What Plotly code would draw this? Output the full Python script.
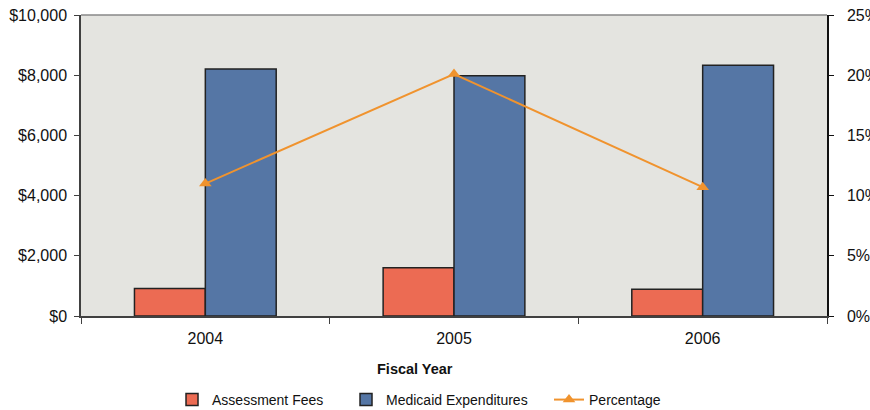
import plotly.graph_objects as go

years = ["2004", "2005", "2006"]
assessment_fees = [910, 1600, 890]
medicaid_expenditures = [8210, 7980, 8330]
percentage = [11.0, 20.1, 10.7]

left_ticks = [0, 2000, 4000, 6000, 8000, 10000]
left_labels = ["$0", "$2,000", "$4,000", "$6,000", "$8,000", "$10,000"]
right_ticks = [0, 5, 10, 15, 20, 25]
right_labels = ["0%", "5%", "10%", "15%", "20%", "25%"]

FAM = "Liberation Sans, Arial, sans-serif"
font = dict(family=FAM, size=15, color="#111111")

fig = go.Figure()
fig.add_trace(go.Bar(x=years, y=assessment_fees, name="Assessment Fees", legendwidth=129,
                     marker=dict(color="#EC6B53", line=dict(color="#222222", width=1.5))))
fig.add_trace(go.Bar(x=years, y=medicaid_expenditures, name="Medicaid Expenditures", legendwidth=158,
                     marker=dict(color="#5576A5", line=dict(color="#222222", width=1.5))))
fig.add_trace(go.Scatter(x=years, y=percentage, name="Percentage", yaxis="y2", legendwidth=80,
                         mode="lines+markers",
                         line=dict(color="#F0932E", width=2),
                         marker=dict(symbol="triangle-up", size=11, color="#F0932E")))

fig.update_layout(
    width=870, height=410,
    margin=dict(l=81, r=43, t=15, b=94, autoexpand=False),
    paper_bgcolor="white",
    plot_bgcolor="#E4E4E0",
    font=font,
    barmode="group",
    bargap=0.43,
    bargroupgap=0,
    showlegend=True,
    legend=dict(orientation="h", x=0.122, xanchor="left", y=-0.279, yanchor="middle",
                font=dict(family=FAM, size=14, color="#111111"),
                traceorder="normal"),
    xaxis=dict(
        type="category", automargin=False,
        showgrid=False, zeroline=False,
        showline=True, linecolor="#404040", linewidth=1.5,
        ticks="outside", tickson="boundaries", ticklen=6, tickcolor="#404040",
        ticklabelstandoff=7,
        tickfont=dict(family=FAM, size=16, color="#111111"),
    ),
    yaxis=dict(
        range=[0, 10000], tickvals=left_ticks, ticktext=left_labels, automargin=False,
        showgrid=False, zeroline=False,
        showline=True, linecolor="#404040", linewidth=1.5,
        ticks="outside", ticklen=5, tickcolor="#404040",
        ticklabelstandoff=4, ticklabeloverflow="allow",
        tickfont=dict(family=FAM, size=16, color="#111111"),
    ),
    yaxis2=dict(
        range=[0, 25], tickvals=right_ticks, ticktext=right_labels, automargin=False,
        overlaying="y", side="right",
        showgrid=False, zeroline=False,
        showline=True, linecolor="#111111", linewidth=1.5,
        ticks="outside", ticklen=5, tickcolor="#111111",
        ticklabelstandoff=10, ticklabeloverflow="allow",
        tickfont=dict(family=FAM, size=16, color="#111111"),
    ),
    shapes=[dict(type="line", xref="paper", yref="paper", x0=0, x1=1, y0=1, y1=1,
                 line=dict(color="#888888", width=1.5))],
    annotations=[dict(text="<b>Fiscal Year</b>", xref="paper", yref="paper",
                      x=0.448, y=-0.176, xanchor="center", yanchor="middle",
                      showarrow=False, font=dict(family=FAM, size=14.5, color="#111111"))],
)

fig.write_html("out.html", config={"displayModeBar": False},
               post_script="document.body.style.margin='0';document.body.style.overflow='hidden';")
